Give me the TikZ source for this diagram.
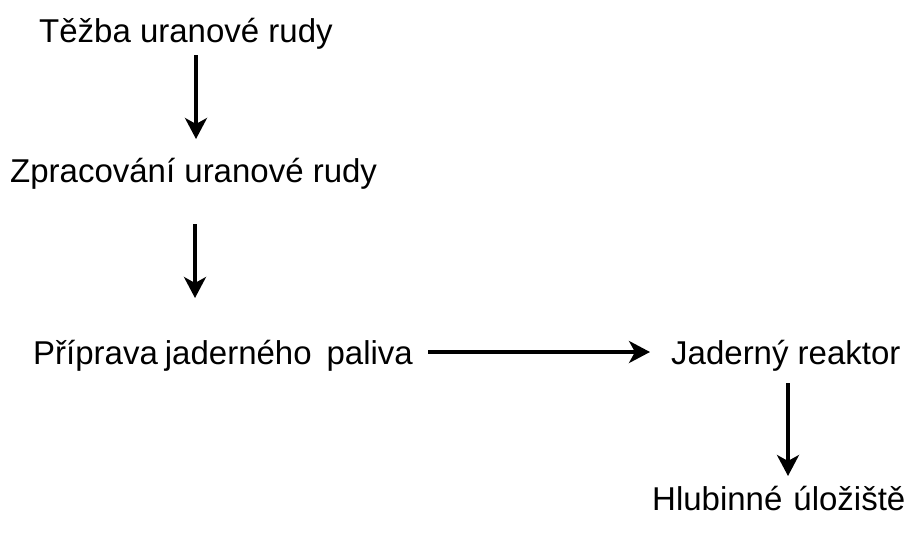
\documentclass[tikz,border=0pt]{standalone}
\usepackage{fontspec}
\setmainfont{Liberation Sans}
\usetikzlibrary{arrows.meta}
\begin{document}
\begin{tikzpicture}[x=1pt,y=-1pt,
  lbl/.style={anchor=base west,inner sep=0pt,font=\fontsize{33}{40}\selectfont},
  arr/.style={line width=3.5pt,-{Stealth[length=21pt,width=22pt,inset=6pt]}}]
\useasboundingbox (0,0) rectangle (916,539);
\node[lbl] (t) at (39,42) {Těžba uranové rudy};
\node[lbl] (z) at (10,182) {Zpracování uranové rudy};
\node[lbl] (p) at (33,364) {Příprava\hspace{7pt}jaderného\hspace{15pt}paliva};
\node[lbl] (j) at (671,364) {Jaderný reaktor};
\node[lbl] (h) at (652,510) {Hlubinné\hspace{11pt}úložiště};
\coordinate (a1s) at (196,55);
\coordinate (a1e) at (196,139);
\coordinate (a2s) at (195,224);
\coordinate (a2e) at (195,298);
\coordinate (a3s) at (428,352);
\coordinate (a3e) at (650,352);
\coordinate (a4s) at (788,383);
\coordinate (a4e) at (788,476);
\draw[arr] (a1s) -- (a1e);
\draw[arr] (a2s) -- (a2e);
\draw[arr] (a3s) -- (a3e);
\draw[arr] (a4s) -- (a4e);
\end{tikzpicture}
\end{document}
